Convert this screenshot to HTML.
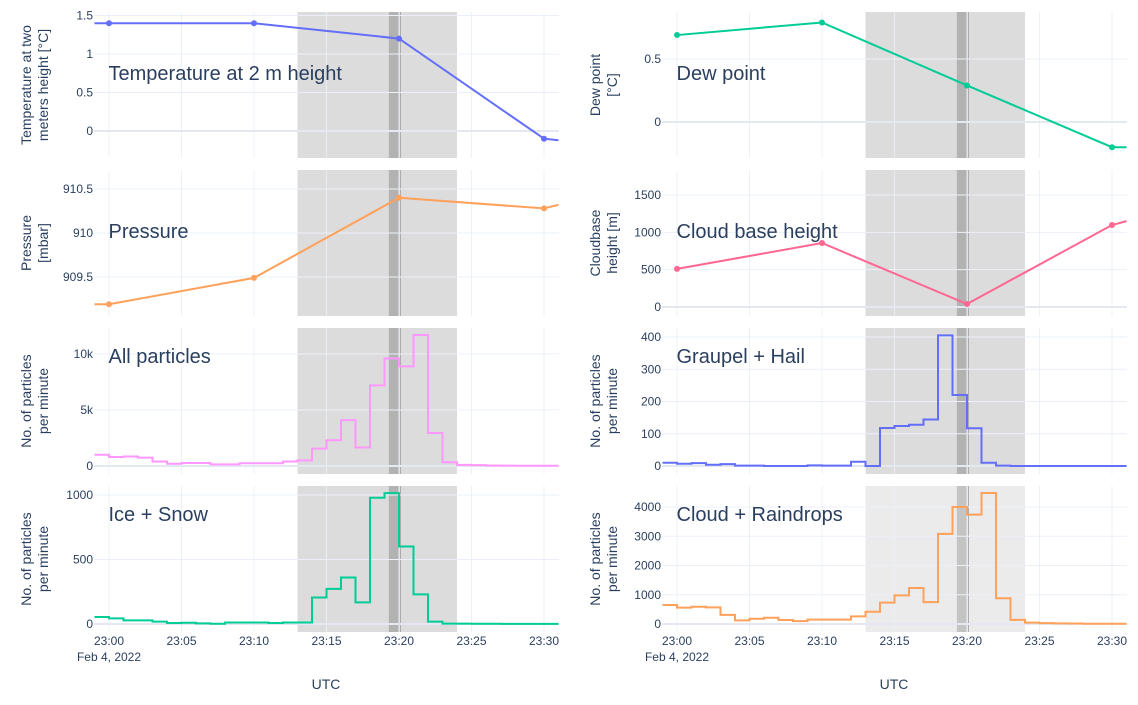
<!DOCTYPE html>
<html><head><meta charset="utf-8"><style>
body{margin:0;background:#fff;font-family:"Liberation Sans",Arial,sans-serif}
svg text{font-family:"Liberation Sans",Arial,sans-serif}
</style></head><body>
<svg id="c" width="1138" height="700" xmlns="http://www.w3.org/2000/svg"></svg>
<script>
const minutes = [22.59,23.00,23.01,23.02,23.03,23.04,23.05,23.06,23.07,23.08,23.09,23.10,23.11,23.12,23.13,23.14,23.15,23.16,23.17,23.18,23.19,23.20,23.21,23.22,23.23,23.24,23.25,23.26,23.27,23.28,23.29,23.30];
const allParticles = [1000,800,850,750,400,200,270,270,150,150,250,250,250,400,500,1550,2300,4100,1650,7200,9600,8900,11700,2950,330,100,80,50,30,20,20,20];
const graupelHail = [10,7,9,4,6,1,1,0,0,0,2,1,1,13,0,118,124,128,144,405,220,117,10,1,0,0,0,0,0,0,0,0];
const iceSnow = [54,44,28,28,18,8,10,5,2,12,12,12,8,12,12,205,272,360,168,979,1015,601,230,18,3,3,2,2,1,1,1,1];
const cloudRain = [650,560,590,570,310,125,180,215,135,100,150,150,150,260,420,730,980,1230,750,3080,4000,3740,4480,880,140,45,30,20,15,10,10,10];
const obsMinutes = [-1,0,10,20,30,31];
const temperature = [1.4,1.4,1.4,1.2,-0.1,-0.12];
const dewMinutes = [0,10,20,30,31];
const dewPoint = [0.69,0.79,0.29,-0.2,-0.2];
const pressure = [909.19,909.19,909.49,910.4,910.28,910.32];
const cloudMinutes = [0,10,20,30,31];
const cloudBase = [510,857,40,1098,1150];
const xTickLabels = ["23:00","23:05","23:10","23:15","23:20","23:25","23:30"];

const svg=document.getElementById('c');
const NS='http://www.w3.org/2000/svg';
function el(tag,attrs,parent){const e=document.createElementNS(NS,tag);for(const k in attrs)e.setAttribute(k,attrs[k]);(parent||svg).appendChild(e);return e;}
const rows=[[12,158],[170,316],[328,474],[486,632]];
function xs(col,m){return 109+col*568+m*14.5;}
function ymap(v1,p1,v2,p2){return v=>p1+(v-v1)*(p2-p1)/(v2-v1);}
const panels=[
 {col:0,row:0,name:'temperature',y:ymap(1.5,15.5,0,131),ticks:[[1.5,'1.5'],[1,'1'],[0.5,'0.5'],[0,'0']],title:['Temperature at two','meters height [°C]'],ann:'Temperature at 2 m height',color:'#636efa',type:'line',xm:obsMinutes,vals:temperature,mk:[1,2,3,4]},
 {col:1,row:0,name:'dew-point',y:ymap(0.5,59,0,122),ticks:[[0.5,'0.5'],[0,'0']],title:['Dew point','[°C]'],ann:'Dew point',color:'#00cc96',type:'line',xm:[...dewMinutes],vals:dewPoint,mk:[0,1,2,3]},
 {col:0,row:1,name:'pressure',y:ymap(910.5,189,909.5,277),ticks:[[910.5,'910.5'],[910,'910'],[909.5,'909.5']],title:['Pressure','[mbar]'],ann:'Pressure',color:'#ffa15a',type:'line',xm:obsMinutes,vals:pressure,mk:[1,2,3,4]},
 {col:1,row:1,name:'cloud-base',y:ymap(1500,195,0,307),ticks:[[1500,'1500'],[1000,'1000'],[500,'500'],[0,'0']],title:['Cloudbase','height [m]'],ann:'Cloud base height',color:'#ff6692',type:'line',xm:cloudMinutes,vals:cloudBase,mk:[0,1,2,3]},
 {col:0,row:2,name:'all-particles',y:ymap(10000,354,0,466),ticks:[[10000,'10k'],[5000,'5k'],[0,'0']],title:['No. of particles','per minute'],ann:'All particles',color:'#ff97ff',type:'step',vals:allParticles},
 {col:1,row:2,name:'graupel-hail',y:ymap(400,337,0,466),ticks:[[400,'400'],[300,'300'],[200,'200'],[100,'100'],[0,'0']],title:['No. of particles','per minute'],ann:'Graupel + Hail',color:'#636efa',type:'step',vals:graupelHail},
 {col:0,row:3,name:'ice-snow',y:ymap(1000,495,0,624),ticks:[[1000,'1000'],[500,'500'],[0,'0']],title:['No. of particles','per minute'],ann:'Ice + Snow',color:'#00cc96',type:'step',vals:iceSnow},
 {col:1,row:3,name:'cloud-raindrops',y:ymap(4000,507,0,624),ticks:[[4000,'4000'],[3000,'3000'],[2000,'2000'],[1000,'1000'],[0,'0']],title:['No. of particles','per minute'],ann:'Cloud + Raindrops',color:'#ffa15a',type:'step',vals:cloudRain,light:true},
];
panels.forEach(p=>{
 const g=el('g',{});
 
 
 const [t,b]=rows[p.row];const L=94+p.col*568,R=L+465;
 const sh=el('rect',{x:xs(p.col,13),y:t,width:xs(p.col,24)-xs(p.col,13),height:b-t,fill:p.light?'#ebebeb':'#dcdcdc'},g);
 
 
 el('rect',{x:xs(p.col,19.3),y:t,width:xs(p.col,20)-xs(p.col,19.3),height:b-t,fill:p.light?'#c4c4c4':'#b2b2b2'},g);
 el('line',{x1:xs(p.col,20.1),x2:xs(p.col,20.1),y1:t,y2:b,stroke:'#aaa','stroke-width':1},g);
 for(let m=0;m<=30;m+=5){el('line',{x1:xs(p.col,m),x2:xs(p.col,m),y1:t,y2:b,stroke:'#ebf0f8','stroke-width':1,opacity:0.9},g);}
 p.ticks.forEach(([v,l])=>{const y=p.y(v);
  el('line',{x1:L,x2:R,y1:y,y2:y,stroke:v===0?'#e3e8f1':'#ebf0f8','stroke-width':v===0?2:1},g);
  const tx=el('text',{x:L-1,y:y+4,'text-anchor':'end','font-size':12,fill:'#2a3f5f'},g);tx.textContent=l;
  
  });
 const cx=(p.col?600:31),cy=(t+b)/2;
 const tt=el('text',{transform:`translate(${cx},${cy}) rotate(-90)`,'text-anchor':'middle','font-size':14,fill:'#2a3f5f'},g);
 
 
 const s1=el('tspan',{x:0,y:0},tt);s1.textContent=p.title[0];
 const s2=el('tspan',{x:0,y:17},tt);s2.textContent=p.title[1];
 let d='';
 if(p.type==='step'){
  p.vals.forEach((v,i)=>{const x0=xs(p.col,i-1),x1=xs(p.col,i),y=p.y(v);d+=(i?'L':'M')+x0+','+y+'L'+x1+','+y;});
 } else {
  p.vals.forEach((v,i)=>{d+=(i?'L':'M')+xs(p.col,p.xm[i])+','+p.y(v);});
 }
 const pl=el('path',{d:d,fill:'none',stroke:p.color,'stroke-width':2},g);
 
 
 if(p.mk){p.mk.forEach(i=>{const c=el('circle',{cx:xs(p.col,p.xm[i]),cy:p.y(p.vals[i]),r:3,fill:p.color},g);
  
  });}
 const an=el('text',{x:L+14.5,y:t+(p.row<2?68:35),'font-size':20,fill:'#2a3f5f'},g);an.textContent=p.ann;
 
 
 if(p.row===3){
  xTickLabels.forEach((l,i)=>{const tx=el('text',{x:xs(p.col,i*5),y:645,'text-anchor':'middle','font-size':12,fill:'#2a3f5f'},g);tx.textContent=l;
   
   });
  const dt=el('text',{x:xs(p.col,0),y:661,'text-anchor':'middle','font-size':12,fill:'#2a3f5f'},g);dt.textContent='Feb 4, 2022';
  
  
  const u=el('text',{x:L+232,y:689,'text-anchor':'middle','font-size':14,fill:'#2a3f5f'},g);u.textContent='UTC';
  
  
 }
});
</script>
</body></html>
